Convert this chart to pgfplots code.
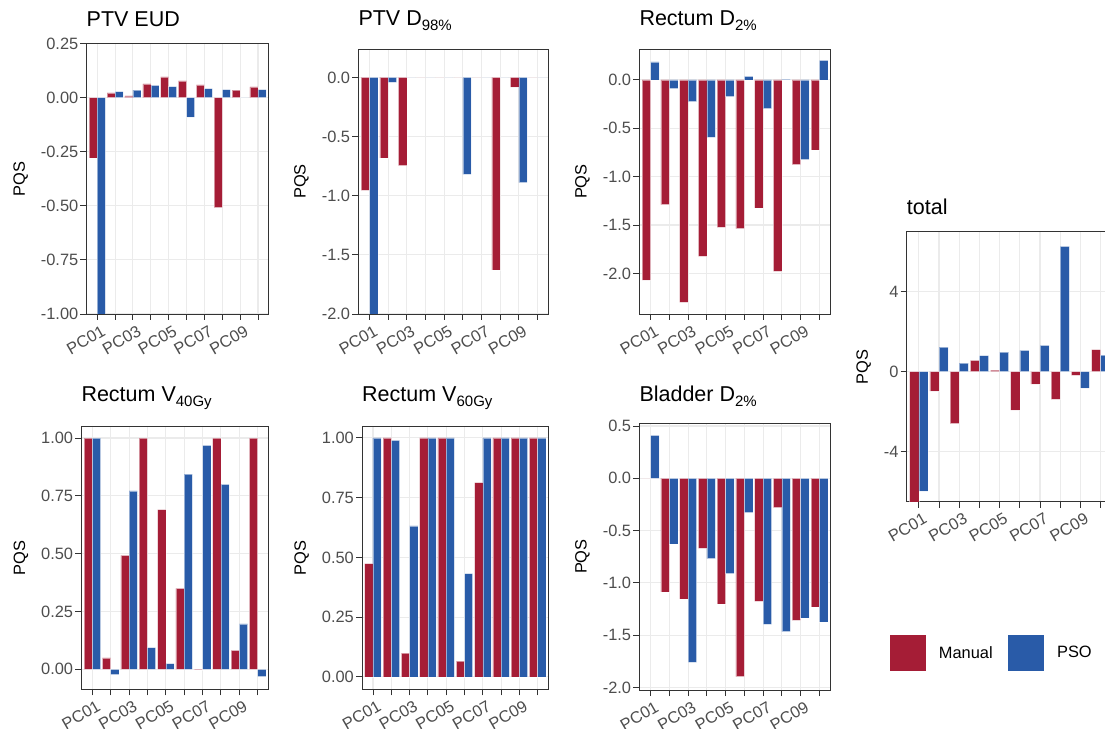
\documentclass[border=0pt]{standalone}
\usepackage{fontspec}
\setmainfont{Liberation Sans}
\usepackage{pgfplots}
\pgfplotsset{compat=1.18}
\usepackage{pgfplotstable}
\definecolor{mred}{RGB}{165,29,54}
\definecolor{pblue}{RGB}{41,91,168}
\definecolor{tickgrey}{RGB}{77,77,77}
\definecolor{framegrey}{RGB}{51,51,51}
\definecolor{gridgrey}{RGB}{235,235,235}
\newcommand\tfont{\fontsize{16.4}{18}\selectfont}
\newcommand\ttl{\fontsize{21.5}{24}\selectfont}
\newcommand\sub[1]{\raisebox{-4.5pt}{\fontsize{15}{15}\selectfont #1}}

\pgfplotstableread{
x M P
1 -0.278 -1.3
2 0.022 0.028
3 0.008 0.034
4 0.063 0.056
5 0.096 0.051
6 0.077 -0.090
7 0.059 0.042
8 -0.509 0.037
9 0.034 0
10 0.049 0.037
}\tabEUD
\pgfplotstableread{
x M P
1 -0.956 -2.3
2 -0.680 -0.042
3 -0.745 0
4 0 0
5 0 0
6 0 -0.820
7 0 0
8 -1.628 0
9 -0.082 -0.889
10 0 0
}\tabDnf
\pgfplotstableread{
x M P
1 -2.069 0.186
2 -1.290 -0.090
3 -2.300 -0.224
4 -1.824 -0.593
5 -1.524 -0.172
6 -1.538 0.038
7 -1.324 -0.297
8 -1.979 0.007
9 -0.876 -0.824
10 -0.724 0.203
}\tabRD
\pgfplotstableread{
x M P
1 1.000 1.000
2 0.049 -0.023
3 0.493 0.772
4 1.000 0.094
5 0.690 0.024
6 0.350 0.844
7 -0.002 0.968
8 1.000 0.800
9 0.082 0.196
10 1.000 -0.032
}\tabVf
\pgfplotstableread{
x M P
1 0.474 1.000
2 1.000 0.990
3 0.099 0.632
4 1.000 1.000
5 1.000 1.000
6 0.066 0.432
7 0.813 1.000
8 1.000 1.000
9 1.000 1.000
10 1.000 1.000
}\tabVs
\pgfplotstableread{
x M P
1 0 0.411
2 -1.087 -0.628
3 -1.154 -1.760
4 -0.670 -0.768
5 -1.202 -0.912
6 -1.897 -0.328
7 -1.177 -1.397
8 -0.281 -1.467
9 -1.358 -1.336
10 -1.231 -1.374
}\tabBD
\pgfplotstableread{
x M P
1 -7.0 -5.97
2 -0.97 1.23
3 -2.60 0.43
4 0.57 0.80
5 0.08 0.98
6 -1.92 1.07
7 -0.62 1.32
8 -1.38 6.27
9 -0.18 -0.82
10 1.10 0.83
}\tabTot

\pgfplotsset{
 panel/.style={
  scale only axis, anchor=south west,
  xmin=0.4, xmax=10.6, xtick={1,3,5,7,9},
  xticklabels={PC01,PC03,PC05,PC07,PC09},
  minor xtick={2,4,6,8,10},
  xtick pos=left, ytick pos=left, tick align=outside,
  major tick length=6pt, minor tick length=6pt,
  tick style={draw=framegrey, line width=0.9pt},
  minor tick style={draw=framegrey, line width=0.9pt},
  axis line style={draw=framegrey, line width=0.9pt},
  grid=both, major grid style={draw=gridgrey, line width=1.1pt},
  minor grid style={draw=gridgrey, line width=1.1pt},
  x tick label style={font=\tfont, text=tickgrey, xshift=4pt, yshift=-3pt, rotate=30, anchor=north east, inner sep=1pt},
  y tick label style={font=\tfont, text=tickgrey, inner sep=2pt},
  ylabel={PQS}, ylabel style={font=\tfont, text=black, yshift=7.5pt},
  every axis title/.style={at={(0,1)}, anchor=base west, inner sep=0pt, font=\ttl},
 },
 man/.style={ybar, bar width=0.45, bar shift=-0.225, fill=mred, draw=white, draw opacity=0.5, line width=0.5pt, forget plot},
 pso/.style={ybar, bar width=0.45, bar shift=0.225, fill=pblue, draw=white, draw opacity=0.5, line width=0.5pt, forget plot},
}

\begin{document}
\begin{tikzpicture}
\path[use as bounding box] (0pt,0pt) rectangle (1105pt,728pt);
\clip (0pt,0pt) rectangle (1105pt,728pt);

% PTV EUD
\begin{axis}[panel, at={(86.5pt,414pt)}, width=182.2pt, height=270.5pt,
  ymin=-1, ymax=0.25, ytick={-1,-0.75,-0.5,-0.25,0,0.25},
  yticklabels={-1.00,-0.75,-0.50,-0.25,0.00,0.25},
  title={PTV EUD}, title style={yshift=16.8pt}]
\addplot[man] table[x=x,y=M] {\tabEUD};
\addplot[pso] table[x=x,y=P] {\tabEUD};
\end{axis}

% PTV D98
\begin{axis}[panel, at={(358.3pt,414pt)}, width=190.4pt, height=265pt,
  ymin=-2, ymax=0.24, ytick={-2,-1.5,-1,-0.5,0},
  yticklabels={-2.0,-1.5,-1.0,-0.5,0.0},
  title={PTV D\sub{98\%}}, title style={yshift=23.3pt}]
\addplot[man] table[x=x,y=M] {\tabDnf};
\addplot[pso] table[x=x,y=P] {\tabDnf};
\end{axis}

% Rectum D2
\begin{axis}[panel, at={(639.3pt,414pt)}, width=191.4pt, height=264.7pt,
  ymin=-2.42, ymax=0.317, ytick={-2,-1.5,-1,-0.5,0},
  yticklabels={-2.0,-1.5,-1.0,-0.5,0.0},
  title={Rectum D\sub{2\%}}, title style={yshift=23.3pt}]
\addplot[man] table[x=x,y=M] {\tabRD};
\addplot[pso] table[x=x,y=P] {\tabRD};
\end{axis}

% Rectum V40
\begin{axis}[panel, at={(81.3pt,38.7pt)}, width=187.4pt, height=262.6pt,
  ymin=-0.0865, ymax=1.049, ytick={0,0.25,0.5,0.75,1},
  yticklabels={0.00,0.25,0.50,0.75,1.00},
  title={Rectum V\sub{40Gy}}, title style={yshift=25pt}]
\addplot[man] table[x=x,y=M] {\tabVf};
\addplot[pso] table[x=x,y=P] {\tabVf};
\end{axis}

% Rectum V60
\begin{axis}[panel, at={(362pt,38.7pt)}, width=186.7pt, height=262.6pt,
  ymin=-0.052, ymax=1.047, ytick={0,0.25,0.5,0.75,1},
  yticklabels={0.00,0.25,0.50,0.75,1.00},
  title={Rectum V\sub{60Gy}}, title style={yshift=25pt}]
\addplot[man] table[x=x,y=M] {\tabVs};
\addplot[pso] table[x=x,y=P] {\tabVs};
\end{axis}

% Bladder D2
\begin{axis}[panel, at={(639.3pt,38pt)}, width=191.4pt, height=266.7pt,
  ymin=-2.025, ymax=0.526, ytick={-2,-1.5,-1,-0.5,0,0.5},
  yticklabels={-2.0,-1.5,-1.0,-0.5,0.0,0.5},
  title={Bladder D\sub{2\%}}, title style={yshift=21.6pt}]
\addplot[man] table[x=x,y=M] {\tabBD};
\addplot[pso] table[x=x,y=P] {\tabBD};
\end{axis}

% total
\begin{axis}[panel, at={(906.7pt,226.3pt)}, width=206pt, height=270pt,
  ymin=-6.5, ymax=7.0, ytick={-4,0,4},
  yticklabels={-4,0,4},
  title={total}, title style={yshift=17.4pt},
  legend style={draw=none, fill=none, at={(axis description cs:-0.0845,-0.4937)},
    anchor=north west, legend columns=2, font=\tfont, inner sep=0pt,
    /tikz/every odd column/.append style={column sep=12pt},
    /tikz/every even column/.append style={column sep=13pt}},
  legend cell align=left]
\addplot[man] table[x=x,y=M] {\tabTot};
\addplot[pso] table[x=x,y=P] {\tabTot};
\addlegendimage{legend image code/.code={\fill[mred] (0pt,-17.5pt) rectangle (35pt,17.5pt);}}
\addlegendentry{Manual}
\addlegendimage{legend image code/.code={\fill[pblue] (0pt,-17.5pt) rectangle (35pt,17.5pt);}}
\addlegendentry{PSO}
\end{axis}
\end{tikzpicture}
\end{document}
